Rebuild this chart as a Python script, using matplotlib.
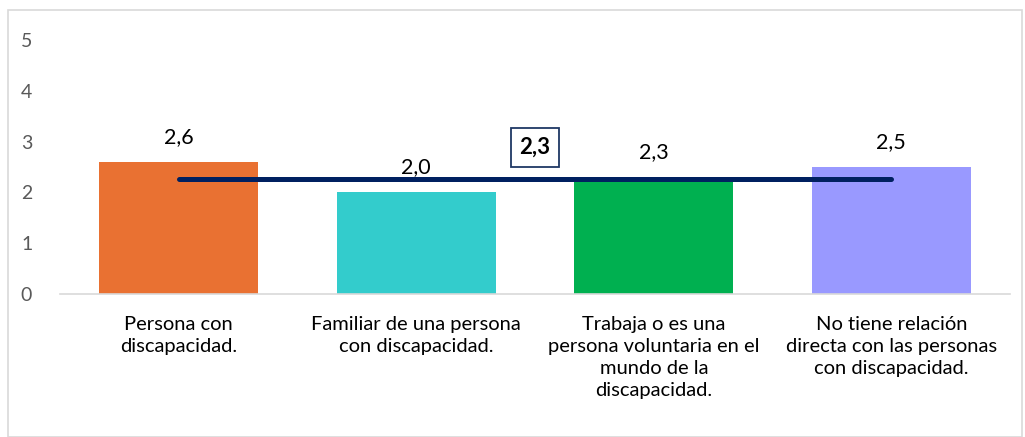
import numpy as np
import matplotlib

matplotlib.use("Agg")
import matplotlib.pyplot as plt
from matplotlib.patches import Rectangle

categories = [
    "Persona con\ndiscapacidad.",
    "Familiar de una persona\ncon discapacidad.",
    "Trabaja o es una\npersona voluntaria en el\nmundo de la\ndiscapacidad.",
    "No tiene relación\ndirecta con las personas\ncon discapacidad.",
]
values = [2.6, 2.0, 2.3, 2.5]
average = 2.26
colors = ["#E97132", "#33CCCC", "#00B050", "#9999FF"]
yticks = [0, 1, 2, 3, 4, 5]


def fmt(v):
    return f"{v:.1f}".replace(".", ",")


plt.rcParams["font.family"] = ["Lato", "DejaVu Sans"]

fig = plt.figure(figsize=(10.25, 4.37), dpi=100)
fig.patches.append(Rectangle((8 / 1025, 0), 1014 / 1025, 1 - 10 / 437,
                             transform=fig.transFigure, fill=False,
                             edgecolor="#d9d9d9", linewidth=1.2))
ax = fig.add_axes([60 / 1025, 1 - 294 / 437, 950 / 1025, 254 / 437])

x = np.arange(len(categories))
ax.bar(x, values, width=0.67, color=colors, zorder=2)
for xi, v in zip(x, values):
    ax.annotate(fmt(v), (xi, v), xytext=(0, 11), textcoords="offset points",
                ha="center", va="bottom", fontsize=15.5, color="black")

avg_line = [average] * len(categories)
ax.plot(x, avg_line, color="#002060", linewidth=3.6,
        solid_capstyle="round", zorder=3)
ax.text(1.5, average + 0.62, fmt(average), ha="center", va="center",
        fontsize=16, fontweight="bold", color="black",
        bbox=dict(boxstyle="square,pad=0.4", facecolor="white",
                  edgecolor="#1F3864", linewidth=1.3))

ax.set_xlim(-0.5, len(categories) - 0.5)
ax.set_ylim(0, 5)
ax.set_yticks(yticks)
ax.set_yticklabels([str(t) for t in yticks], fontsize=14, color="#595959")
ax.set_xticks(x)
ax.set_xticklabels(categories, fontsize=14.5, color="black",
                   linespacing=1.35, va="top")
ax.tick_params(axis="both", length=0)
ax.tick_params(axis="y", pad=20)
ax.tick_params(axis="x", pad=16)
for side in ("top", "right", "left"):
    ax.spines[side].set_visible(False)
ax.spines["bottom"].set_color("#d9d9d9")
ax.spines["bottom"].set_linewidth(1.2)

fig.savefig("out.png", dpi=100)
